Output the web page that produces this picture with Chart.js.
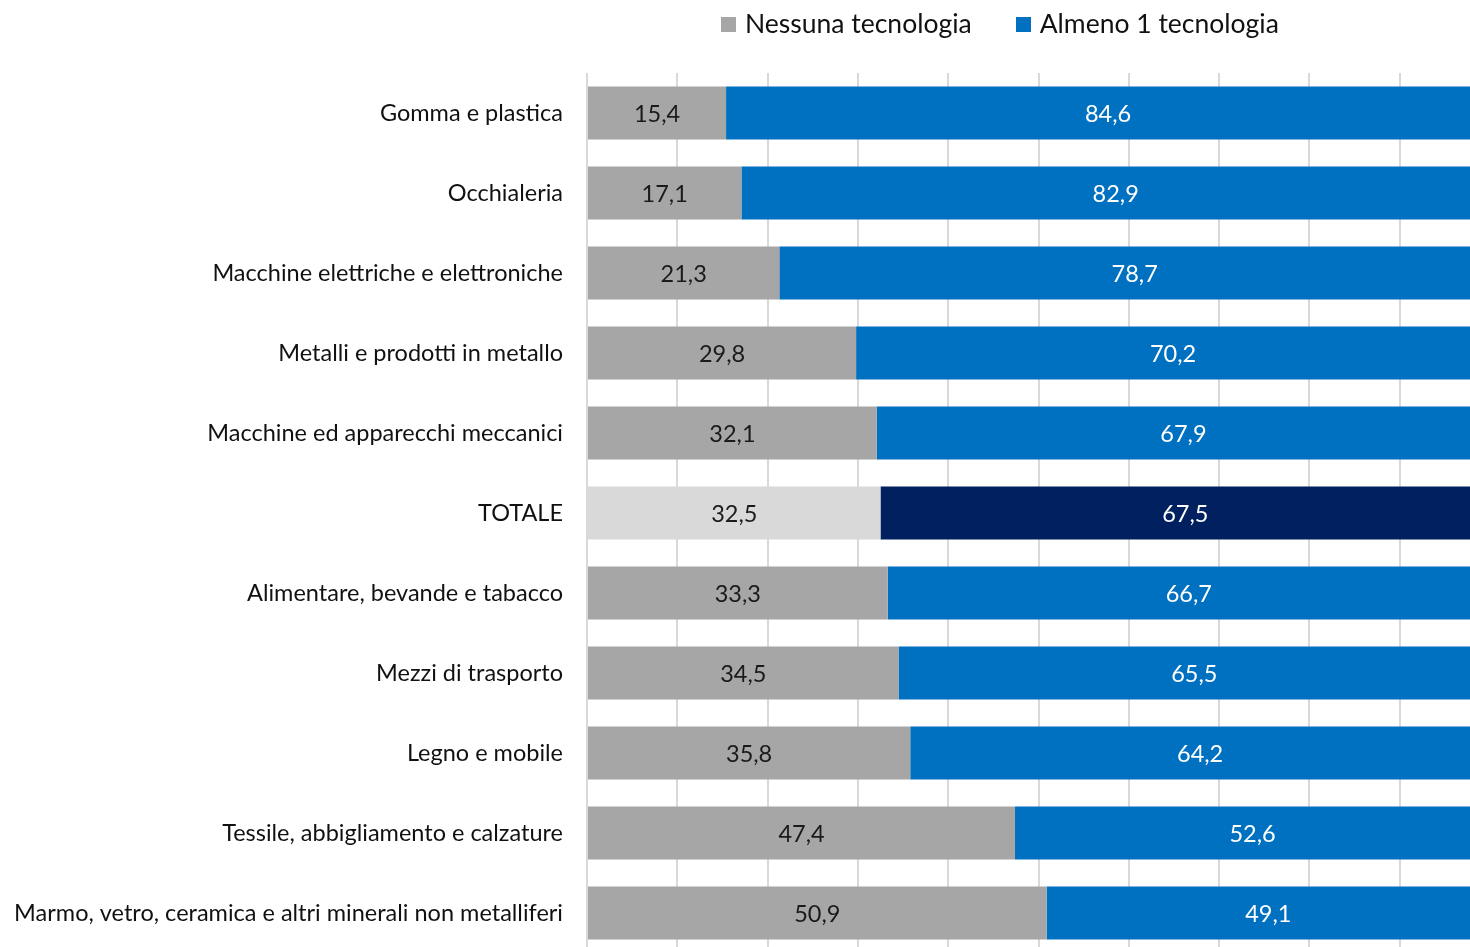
<!DOCTYPE html>
<html>
<head>
<meta charset="utf-8">
<script src="https://cdn.jsdelivr.net/npm/chart.js@4"></script>
<style>
  html, body { margin: 0; padding: 0; background: #fff; overflow: hidden; }
  #wrap { position: relative; width: 1490px; height: 953px; }
  #chart { position: absolute; left: 0; top: 0; }
  #legend { position: absolute; top: 7px; left: 721px; font-family: Lato, sans-serif; font-size: 26.5px; color: #111; white-space: nowrap; }
  #legend span.box { display: inline-block; width: 15px; height: 15px; margin-right: 9px; vertical-align: 1px; }
  #legend span.item { margin-right: 44px; }
</style>
</head>
<body>
<div id="wrap">
  <canvas id="chart"></canvas>
  <div id="legend"></div>
</div>
<script>
// Categories and values (percent)
const categories = [
  'Gomma e plastica',
  'Occhialeria',
  'Macchine elettriche e elettroniche',
  'Metalli e prodotti in metallo',
  'Macchine ed apparecchi meccanici',
  'TOTALE',
  'Alimentare, bevande e tabacco',
  'Mezzi di trasporto',
  'Legno e mobile',
  'Tessile, abbigliamento e calzature',
  'Marmo, vetro, ceramica e altri minerali non metalliferi'
];
const nessuna = [15.4, 17.1, 21.3, 29.8, 32.1, 32.5, 33.3, 34.5, 35.8, 47.4, 50.9];
const almeno = [84.6, 82.9, 78.7, 70.2, 67.9, 67.5, 66.7, 65.5, 64.2, 52.6, 49.1];
const seriesNames = ['Nessuna tecnologia', 'Almeno 1 tecnologia'];

const GRAY = '#A6A6A6', GRAY_TOT = '#D9D9D9', BLUE = '#0070C0', NAVY = '#002060';
const grayColors = categories.map(c => c === 'TOTALE' ? GRAY_TOT : GRAY);
const blueColors = categories.map(c => c === 'TOTALE' ? NAVY : BLUE);

// HTML legend
const legend = document.getElementById('legend');
[[seriesNames[0], GRAY], [seriesNames[1], BLUE]].forEach(([name, col]) => {
  const it = document.createElement('span');
  it.className = 'item';
  it.innerHTML = '<span class="box" style="background:' + col + '"></span>' + name;
  legend.appendChild(it);
});

// Draws value labels in the middle of each bar segment
const valueLabels = {
  id: 'valueLabels',
  afterDatasetsDraw(chart) {
    const ctx = chart.ctx;
    ctx.save();
    ctx.font = '23.5px Lato, sans-serif';
    ctx.textAlign = 'center';
    ctx.textBaseline = 'middle';
    chart.data.datasets.forEach((ds, i) => {
      chart.getDatasetMeta(i).data.forEach((bar, j) => {
        const cx = (bar.x + bar.base) / 2;
        ctx.fillStyle = i === 0 ? '#1a1a1a' : '#ffffff';
        ctx.fillText(ds.data[j].toFixed(1).replace('.', ','), cx, bar.y + 1);
      });
    });
    ctx.restore();
  }
};

const canvas = document.getElementById('chart');
canvas.style.width = '1490px';
canvas.style.height = '953px';

new Chart(canvas, {
  type: 'bar',
  data: {
    labels: categories,
    datasets: [
      { label: seriesNames[0], data: nessuna, backgroundColor: grayColors, borderWidth: 0 },
      { label: seriesNames[1], data: almeno, backgroundColor: blueColors, borderWidth: 0 }
    ]
  },
  options: {
    indexAxis: 'y',
    responsive: false,
    maintainAspectRatio: false,
    animation: false,
    devicePixelRatio: 1,
    layout: { padding: { top: 73, right: 0, bottom: 0, left: 0 } },
    datasets: { bar: { categoryPercentage: 1, barPercentage: 0.66 } },
    plugins: { legend: { display: false }, tooltip: { enabled: false } },
    scales: {
      x: {
        stacked: true,
        min: 0,
        max: 100,
        ticks: { display: false, stepSize: 10 },
        grid: { color: '#D9D9D9', lineWidth: 2, drawTicks: false },
        border: { display: false },
        afterFit(scale) { scale.height = 0; }
      },
      y: {
        stacked: true,
        grid: { display: false, drawTicks: false },
        border: { display: false },
        ticks: { color: '#111', font: { family: 'Lato, sans-serif', size: 23.5 }, padding: 24 },
        afterFit(scale) {
          scale.width = 587;
          scale.paddingTop = 0;
          scale.paddingBottom = 0;
        }
      }
    }
  },
  plugins: [valueLabels]
});
</script>
</body>
</html>
